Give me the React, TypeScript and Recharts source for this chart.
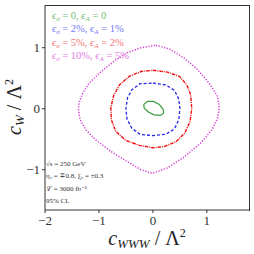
import React from "react";
import { LineChart, Line, XAxis, YAxis, Label } from "recharts";

// contour points [cWWW, cW], traced in order
const sm: [number, number][] = [
  [-0.17, 0.07], [-0.1, 0.12], [0.01, 0.12], [0.12, 0.07], [0.19, -0.01],
  [0.2, -0.07], [0.14, -0.11], [0.02, -0.1], [-0.09, -0.05], [-0.16, 0.01],
];
const sys2: [number, number][] = [
  [0.0, 0.42], [0.24, 0.39], [0.4, 0.3], [0.48, 0.16], [0.5, 0.0],
  [0.48, -0.18], [0.4, -0.33], [0.24, -0.42], [0.0, -0.44], [-0.24, -0.42],
  [-0.39, -0.32], [-0.48, -0.17], [-0.5, 0.0], [-0.47, 0.18], [-0.39, 0.31],
  [-0.24, 0.41],
];
const sys5: [number, number][] = [
  [0.0, 0.63], [0.27, 0.6], [0.49, 0.53], [0.63, 0.39], [0.7, 0.23],
  [0.72, 0.01], [0.69, -0.21], [0.59, -0.4], [0.43, -0.54], [0.21, -0.62],
  [0.0, -0.64], [-0.25, -0.6], [-0.5, -0.52], [-0.69, -0.37], [-0.77, -0.18],
  [-0.78, 0.01], [-0.73, 0.21], [-0.62, 0.39], [-0.44, 0.53], [-0.22, 0.61],
];
const sys10: [number, number][] = [
  [0.04, 1.04], [-0.22, 1.0], [-0.47, 0.92], [-0.72, 0.78], [-0.96, 0.61],
  [-1.18, 0.42], [-1.3, 0.26], [-1.37, 0.09], [-1.38, -0.01], [-1.35, -0.18],
  [-1.24, -0.35], [-1.06, -0.51], [-0.78, -0.7], [-0.47, -0.87], [-0.22, -1.0],
  [-0.01, -1.06], [0.27, -0.97], [0.58, -0.79], [0.89, -0.56], [1.1, -0.34],
  [1.2, -0.15], [1.23, 0.01], [1.2, 0.2], [1.04, 0.42], [0.83, 0.64],
  [0.58, 0.83], [0.33, 0.97], [0.15, 1.02],
];

const xTicks = [-2, -1, 0, 1];
const yTicks = [-1, 0, 1];
const legendSigma = ["0", "2%", "5%", "10%"];
const legendA = ["0", "1%", "2%", "5%"];
const notes = ["√s = 250 GeV", "η₀ = ∓0.8, ξ₀ = ±0.3", "ℒ = 3000 fb⁻¹", "95% CL"];

const serif = "'Liberation Serif', 'DejaVu Serif', serif";

const closed = (pts: [number, number][]) =>
  [...pts, pts[0]].map(([x, y]) => ({ x, y }));

const series = [
  { key: "sm", data: closed(sm), color: "#3c9a3c", dash: undefined, width: 1.2, text: "#72bd72" },
  { key: "s2", data: closed(sys2), color: "#2525f0", dash: "3 2", width: 1.3, text: "#7777f4" },
  { key: "s5", data: closed(sys5), color: "#f01010", dash: "3.5 1 1 1", width: 1.4, text: "#f57676" },
  { key: "s10", data: closed(sys10), color: "#d43ad4", dash: "1.2 1.6", width: 1.5, text: "#e07ae0" },
];

const fmt = (v: number) => (v < 0 ? "\u2212" + Math.abs(v) : String(v));

const XTick = ({ x, y, payload }: any) => (
  <text x={x} y={y + 10} textAnchor="middle" fontSize={13} fill="#333" fontFamily={serif}>
    {fmt(payload.value)}
  </text>
);

const YTick = ({ x, y, payload }: any) => (
  <text x={x} y={y + 4.5} textAnchor="end" fontSize={13} fill="#333" fontFamily={serif}>
    {fmt(payload.value)}
  </text>
);

const XLabel = () => (
  <text x={147} y={245} textAnchor="middle" fontSize={20} fill="#222" fontFamily={serif}>
    <tspan fontStyle="italic">c</tspan>
    <tspan fontStyle="italic" fontSize={13} dy={3}>WWW</tspan>
    <tspan dy={-3}> / Λ</tspan>
    <tspan fontSize={12} dy={-8}>2</tspan>
  </text>
);

const YLabel = () => (
  <text
    x={0}
    y={0}
    transform="translate(21,107) rotate(-90)"
    textAnchor="middle"
    fontSize={20}
    fill="#222"
    fontFamily={serif}
  >
    <tspan fontStyle="italic">c</tspan>
    <tspan fontStyle="italic" fontSize={13} dy={3}>W</tspan>
    <tspan dy={-3}> / Λ</tspan>
    <tspan fontSize={12} dy={-8}>2</tspan>
  </text>
);

const subStyle: React.CSSProperties = { fontSize: 7, fontStyle: "italic", position: "relative", top: 2 };

export default function App() {
  return (
    <div style={{ position: "absolute", left: 0, top: 0, width: 254, height: 254, background: "#fff" }}>
      <LineChart width={254} height={254} margin={{ top: 5, right: 4, left: 0, bottom: 0 }}>
        <XAxis
          xAxisId="b"
          dataKey="x"
          type="number"
          domain={[-2, 1.8]}
          ticks={xTicks}
          allowDataOverflow
          height={44}
          tickSize={3}
          tickLine={{ stroke: "#333" }}
          axisLine={{ stroke: "#777", strokeWidth: 1.5 }}
          tick={<XTick />}
        >
          <Label content={<XLabel />} />
        </XAxis>
        <YAxis
          yAxisId="l"
          dataKey="y"
          type="number"
          domain={[-1.66, 1.7]}
          ticks={yTicks}
          allowDataOverflow
          width={45}
          tickSize={3}
          tickLine={{ stroke: "#333" }}
          axisLine={{ stroke: "#333" }}
          tick={<YTick />}
        >
          <Label content={<YLabel />} />
        </YAxis>
        {series.map((s) => (
          <Line
            key={s.key}
            xAxisId="b"
            yAxisId="l"
            data={s.data}
            dataKey="y"
            type="linear"
            stroke={s.color}
            strokeWidth={s.width}
            strokeDasharray={s.dash}
            dot={false}
            activeDot={false}
            isAnimationActive={false}
          />
        ))}
      </LineChart>
      {/* top and right edges of the axes box */}
      <div
        style={{
          position: "absolute",
          left: 45,
          top: 5,
          width: 204,
          height: 205,
          borderTop: "1px solid #333",
          borderRight: "1px solid #333",
          pointerEvents: "none",
        }}
      />
      {series.map((s, i) => (
        <div
          key={s.key}
          style={{
            position: "absolute",
            left: 52,
            top: 9 + i * 13.3,
            fontFamily: serif,
            fontSize: 10.5,
            lineHeight: "13px",
            color: s.text,
            whiteSpace: "nowrap",
          }}
        >
          <i>ϵ</i>
          <span style={subStyle}>σ</span> = {legendSigma[i]}, <i>ϵ</i>
          <span style={subStyle}>A</span> = {legendA[i]}
        </div>
      ))}
      {notes.map((n, i) => (
        <div
          key={n}
          style={{
            position: "absolute",
            left: 46,
            top: 159 + i * 12.3,
            fontFamily: serif,
            fontSize: 7,
            lineHeight: "10px",
            color: "#333",
            whiteSpace: "nowrap",
          }}
        >
          {n}
        </div>
      ))}
    </div>
  );
}
